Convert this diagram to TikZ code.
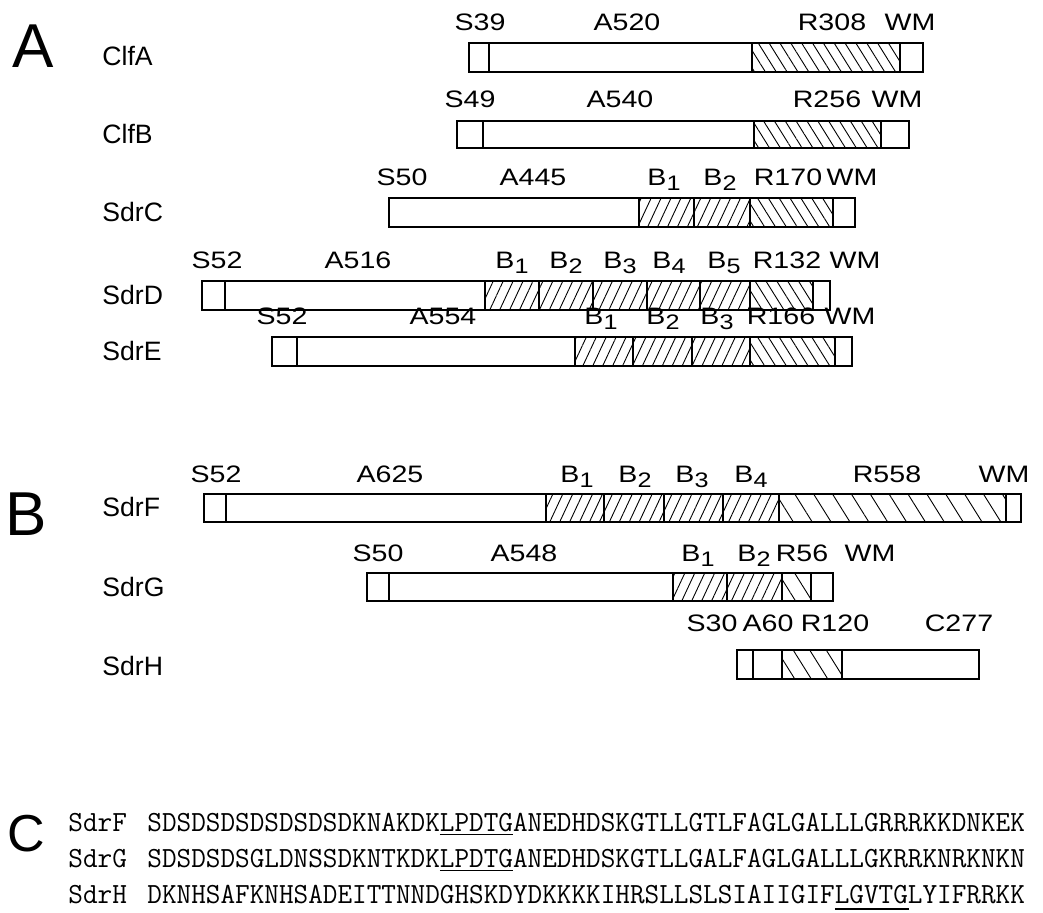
\documentclass[tikz,border=0pt]{standalone}
\usepackage{fontspec}
\newfontfamily\sff{Liberation Sans}
\usetikzlibrary{patterns.meta}
\newcommand\W[1]{\scalebox{1.2}[1]{#1}}
\newcommand\Bs[1]{B\raisebox{-2.2pt}{\fontsize{10.5}{12}\selectfont #1}}
\newcommand\seg[3]{\draw[bx,#3] (#1,\yt) rectangle (#2,\yb);}
\newcommand\TT[1]{\scalebox{1}[1.03]{#1}}
\newcommand\thickul[1]{\rlap{\rule[-3.6pt]{37.3pt}{1.3pt}}#1}
\tikzset{
  bx/.style={line width=0.8pt, fill=white},
  hb/.style={pattern={Lines[angle=65,distance=4.5pt,line width=0.45pt]}},
  hr/.style={pattern={Lines[angle=-58,distance=4.6pt,line width=0.45pt]}},
  hrw/.style={pattern={Lines[angle=-58,distance=8.0pt,line width=0.45pt]}},
  hrh/.style={pattern={Lines[angle=-58,distance=7.0pt,line width=0.45pt]}},
  lab/.style={anchor=base, inner sep=0pt, font=\sff\fontsize{11.9}{14}\selectfont},
  nm/.style={anchor=west, inner sep=0pt, font=\sff\fontsize{13.3}{15}\selectfont},
  big/.style={inner sep=0pt, font=\sff\fontsize{31}{31}\selectfont},
  sq/.style={anchor=base west, inner sep=0pt, font=\ttfamily\fontsize{14.2}{16}\selectfont}
}
\begin{document}
\begin{tikzpicture}[x=0.5pt,y=-0.5pt]
\useasboundingbox (0,0) rectangle (1043,913);
% big letters
\node[big] (LA) at (33,46) {A};
\node[big] (LB) at (26,514) {B};
\node[big,font=\sff\fontsize{26}{26}\selectfont] (LC) at (26,834) {C};
% ---------------- ClfA
\def\yt{43}\def\yb{72}
\node[nm] (nClfA) at (102,56) {ClfA};
\seg{469}{489}{}\seg{489}{752}{}\seg{752}{900}{hr}\seg{900}{923}{}
\node[lab] (a1) at (480,31) {\W{S39}};
\node[lab] (a2) at (627,31) {\W{A520}};
\node[lab] (a3) at (832,31) {\W{R308}};
\node[lab] (a4) at (910,31) {\W{WM}};
% ---------------- ClfB
\def\yt{121}\def\yb{148}
\node[nm] (nClfB) at (102,134) {ClfB};
\seg{457}{483}{}\seg{483}{754}{}\seg{754}{881}{hr}\seg{881}{909}{}
\node[lab] (b1) at (470,108) {\W{S49}};
\node[lab] (b2) at (620,108) {\W{A540}};
\node[lab] (b3) at (827,108) {\W{R256}};
\node[lab] (b4) at (897,108) {\W{WM}};
% ---------------- SdrC
\def\yt{198}\def\yb{227}
\node[nm] (nSdrC) at (102,212) {SdrC};
\seg{389}{639}{}\seg{639}{694}{hb}\seg{694}{750}{hb}\seg{750}{833}{hr}\seg{833}{855}{}
\node[lab] (c1) at (402,186) {\W{S50}};
\node[lab] (c2) at (533,186) {\W{A445}};
\node[lab] (c3) at (664,186) {\W{\Bs{1}}};
\node[lab] (c4) at (720,186) {\W{\Bs{2}}};
\node[lab] (c5) at (788,186) {\W{R170}};
\node[lab] (c6) at (852,186) {\W{WM}};
% ---------------- SdrD
\def\yt{281}\def\yb{310}
\node[nm] (nSdrD) at (102,295) {SdrD};
\seg{202}{225}{}\seg{225}{485}{}\seg{485}{539}{hb}\seg{539}{593}{hb}\seg{593}{647}{hb}\seg{647}{700}{hb}\seg{700}{750}{hb}\seg{750}{813}{hr}\seg{813}{830}{}
\node[lab] (d1) at (217,269) {\W{S52}};
\node[lab] (d2) at (358,269) {\W{A516}};
\node[lab] (d3) at (512,269) {\W{\Bs{1}}};
\node[lab] (d4) at (566,269) {\W{\Bs{2}}};
\node[lab] (d5) at (620,269) {\W{\Bs{3}}};
\node[lab] (d6) at (669,269) {\W{\Bs{4}}};
\node[lab] (d7) at (724,269) {\W{\Bs{5}}};
\node[lab] (d8) at (787,269) {\W{R132}};
\node[lab] (d9) at (855,269) {\W{WM}};
% ---------------- SdrE
\def\yt{337}\def\yb{366}
\node[nm] (nSdrE) at (102,351) {SdrE};
\seg{272}{297}{}\seg{297}{575}{}\seg{575}{633}{hb}\seg{633}{692}{hb}\seg{692}{750}{hb}\seg{750}{835}{hr}\seg{835}{852}{}
\node[lab] (e1) at (282,325) {\W{S52}};
\node[lab] (e2) at (443,325) {\W{A554}};
\node[lab] (e3) at (601,325) {\W{\Bs{1}}};
\node[lab] (e4) at (663,325) {\W{\Bs{2}}};
\node[lab] (e5) at (717,325) {\W{\Bs{3}}};
\node[lab] (e6) at (781,325) {\W{R166}};
\node[lab] (e7) at (850,325) {\W{WM}};
% ---------------- SdrF
\def\yt{494}\def\yb{522}
\node[nm] (nSdrF) at (102,507) {SdrF};
\seg{204}{226}{}\seg{226}{546}{}\seg{546}{604}{hb}\seg{604}{664}{hb}\seg{664}{723}{hb}\seg{723}{779}{hb}\seg{779}{1006}{hrw}\seg{1006}{1021}{}
\node[lab] (f1) at (216,483) {\W{S52}};
\node[lab] (f2) at (390,483) {\W{A625}};
\node[lab] (f3) at (577,483) {\W{\Bs{1}}};
\node[lab] (f4) at (635,483) {\W{\Bs{2}}};
\node[lab] (f5) at (692,483) {\W{\Bs{3}}};
\node[lab] (f6) at (751,483) {\W{\Bs{4}}};
\node[lab] (f7) at (887,483) {\W{R558}};
\node[lab] (f8) at (1004,483) {\W{WM}};
% ---------------- SdrG
\def\yt{573}\def\yb{601}
\node[nm] (nSdrG) at (102,587) {SdrG};
\seg{367}{389}{}\seg{389}{673}{}\seg{673}{727}{hb}\seg{727}{782}{hb}\seg{782}{811}{hrh}\seg{811}{833}{}
\node[lab] (g1) at (378,562) {\W{S50}};
\node[lab] (g2) at (524,562) {\W{A548}};
\node[lab] (g3) at (698,562) {\W{\Bs{1}}};
\node[lab] (g4) at (754,562) {\W{\Bs{2}}};
\node[lab] (g5) at (802,562) {\W{R56}};
\node[lab] (g6) at (870,562) {\W{WM}};
% ---------------- SdrH
\def\yt{650}\def\yb{679}
\node[nm] (nSdrH) at (102,666) {SdrH};
\seg{737}{753}{}\seg{753}{782}{}\seg{782}{842}{hrh}\seg{842}{979}{}
\node[lab] (h1) at (712,632) {\W{S30}};
\node[lab] (h2) at (768,632) {\W{A60}};
\node[lab] (h3) at (835,632) {\W{R120}};
\node[lab] (h4) at (959,632) {\W{C277}};
% ---------------- C sequences
\node[sq] (sF) at (68,831) {\TT{SdrF}};
\node[sq] (qF) at (147,831) {\TT{SDSDSDSDSDSDSDKNAKDK\underline{LPDTG}ANEDHDSKGTLLGTLFAGLGALLLGRRRKKDNKEK}};
\node[sq] (sG) at (68,867) {\TT{SdrG}};
\node[sq] (qG) at (147,867) {\TT{SDSDSDSGLDNSSDKNTKDK\underline{LPDTG}ANEDHDSKGTLLGALFAGLGALLLGKRRKNRKNKN}};
\node[sq] (sH) at (68,903) {\TT{SdrH}};
\node[sq] (qH) at (147,903) {\TT{DKNHSAFKNHSADEITTNNDGHSKDYDKKKKIHRSLLSLSIAIIGIF\thickul{LGVTG}LYIFRRKK}};
\end{tikzpicture}
\end{document}
